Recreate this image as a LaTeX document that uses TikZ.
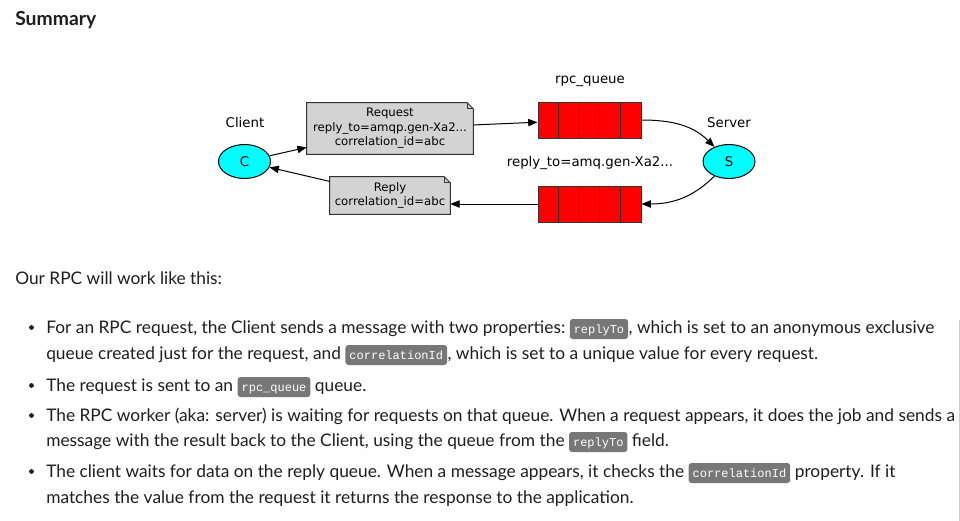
\documentclass[tikz,border=0pt]{standalone}
\usepackage{fontspec}
\setmainfont{Lato}
\newfontfamily\dotfont{DejaVu Sans}
\newfontfamily\codefont{Liberation Mono}
\usetikzlibrary{positioning,arrows.meta,calc,shapes.geometric,backgrounds}
\definecolor{txtcol}{HTML}{1E1E1E}
\definecolor{codegray}{HTML}{777777}
\definecolor{notegray}{HTML}{D3D3D3}
\definecolor{qred}{HTML}{FF0000}
\definecolor{nodecyan}{HTML}{00FFFF}
\tikzstyle{ell} = [ellipse, draw, line width=0.75pt, fill=nodecyan, minimum width=39pt,
minimum height=25.5pt, inner sep=0pt, font=\dotfont\fontsize{10}{12}\selectfont]
\tikzstyle{note} = [rectangle, align=center, inner sep=0pt,
font=\dotfont\fontsize{8.8}{10.9}\selectfont]
\tikzstyle{queue} = [rectangle, draw=black!80, line width=0.75pt, fill=qred,
minimum width=77.25pt, minimum height=27pt, inner sep=0pt]
\tikzstyle{lbl} = [font=\dotfont\fontsize{10}{12}\selectfont, inner sep=0pt]
\tikzstyle{line} = [draw, line width=0.75pt, -{Triangle[length=7pt,width=5.5pt]}]
\tikzstyle{txt} = [anchor=base west, inner sep=0pt, text=txtcol,
font=\fontsize{13}{16}\selectfont]
\tikzstyle{code} = [fill=codegray, rounded corners=2.2pt, text=white, inner xsep=3pt,
inner ysep=2.5pt, text height=8pt, text depth=2pt, font=\codefont\fontsize{9}{10}\selectfont]
\tikzstyle{dot} = [circle, fill=txtcol, inner sep=0pt, minimum size=3.6pt]

\begin{document}
\begin{tikzpicture}[x=0.75pt, y=-0.75pt]
\useasboundingbox (0,0) rectangle (960,521);

% diagram
\node [ell] (c) at (244.5,161.5) {C};
\node [ell] (s) at (729,161.5) {S};
\node [lbl] (clientlbl) at (245,123) {Client};
\node [lbl] (serverlbl) at (729,123) {Server};
\node [note, minimum width=124.5pt, minimum height=38.25pt] (req) at (390,128.5)
  {Request\\reply\_to=amqp.gen-Xa2...\\correlation\_id=abc};
\node [note, minimum width=90pt, minimum height=27.75pt] (rep) at (390,195.5)
  {Reply\\correlation\_id=abc};
\node [queue] (rpcq) at (589.5,120) {};
\node [queue] (replyq) at (589.5,204) {};
\node [lbl] (rpclbl) at (590,81) {rpc\_queue};
\node [lbl] (replylbl) at (590,163) {reply\_to=amq.gen-Xa2...};

\begin{scope}[on background layer]
\fill [white] (0,0) rectangle (960,521);
\foreach \n in {req,rep} {
  \filldraw [fill=notegray, draw=black!80, line width=0.75pt] (\n.north west) -- ($(\n.north east)+(-6,0)$)
    -- ($(\n.north east)+(0,6)$) -- (\n.south east) -- (\n.south west) -- cycle;
  \draw [black!80, line width=0.75pt] ($(\n.north east)+(-6,0)$) |- ($(\n.north east)+(0,6)$);
}
\end{scope}
\foreach \q in {rpcq,replyq} {
  \foreach \i in {1,...,4}
    \draw [black!80, line width=0.75pt] ($(\q.north west)!\i/5!(\q.north east)$) -- ($(\q.south west)!\i/5!(\q.south east)$);
}

\path [line] (c) -- (req);
\path [line] (req) -- (rpcq);
\path [line] (rpcq.east) to[out=0, in=135] (s);
\path [line] (s) to[out=-135, in=0] (replyq.east);
\path [line] (replyq.west) -- (replyq.west -| rep.east);
\path [line] (rep) -- (c);

% text
\node [anchor=base west, inner sep=0pt, text=txtcol, font=\bfseries\fontsize{14.5}{16}\selectfont] (title) at (15,26) {Summary};
\node [txt] (intro) at (15,284) {Our RPC will work like this:};

\foreach \y [count=\i] in {333,391,421,477}
  \node [dot] (dot\i) at (31.5,\y-5.5) {};

\node [txt] (l1a) at (46,333) {For an RPC request, the Client sends a message with two properties:};
\node [code, base right=3pt of l1a] (l1b) {replyTo};
\node [txt, base right=0pt of l1b] (l1c) {, which is set to an anonymous exclusive};

\node [txt] (l2a) at (46,359) {queue created just for the request, and};
\node [code, base right=3pt of l2a] (l2b) {correlationId};
\node [txt, base right=0pt of l2b] (l2c) {, which is set to a unique value for every request.};

\node [txt] (l3a) at (46,391) {The request is sent to an};
\node [code, base right=3pt of l3a] (l3b) {rpc\_queue};
\node [txt, base right=3pt of l3b] (l3c) {queue.};

\node [txt] (l4a) at (46,421) {The RPC worker (aka: server) is waiting for requests on that queue. When a request appears, it does the job and sends a};

\node [txt] (l5a) at (46,446) {message with the result back to the Client, using the queue from the};
\node [code, base right=3pt of l5a] (l5b) {replyTo};
\node [txt, base right=3pt of l5b] (l5c) {field.};

\node [txt] (l6a) at (46,477) {The client waits for data on the reply queue. When a message appears, it checks the};
\node [code, base right=3pt of l6a] (l6b) {correlationId};
\node [txt, base right=3pt of l6b] (l6c) {property. If it};

\node [txt] (l7a) at (46,503) {matches the value from the request it returns the response to the application.};

\draw [black!20, line width=0.75pt] (959,320) -- (959,521);
\end{tikzpicture}
\end{document}
